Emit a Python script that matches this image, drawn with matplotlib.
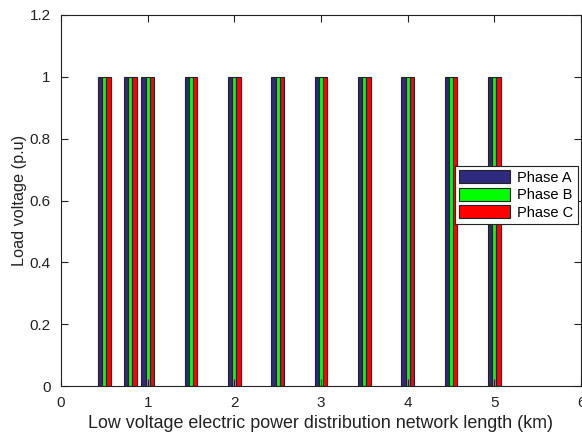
import matplotlib
matplotlib.use("Agg")
import matplotlib.pyplot as plt
import numpy as np

plt.rcParams['font.family'] = ['Liberation Sans', 'DejaVu Sans']

distance_km = [0.5, 0.8, 1.0, 1.5, 2.0, 2.5, 3.0, 3.5, 4.0, 4.5, 5.0]
phase_a = [1, 1, 1, 1, 1, 1, 1, 1, 1, 1, 1]
phase_b = [1, 1, 1, 1, 1, 1, 1, 1, 1, 1, 1]
phase_c = [1, 1, 1, 1, 1, 1, 1, 1, 1, 1, 1]
series_names = ['Phase A', 'Phase B', 'Phase C']
colors = ['#2e2a7e', '#00ff00', '#ff0000']

fig = plt.figure(figsize=(5.82, 4.34), dpi=100)
ax = fig.add_axes([61/582, 1-386/434, 520/582, 371/434])

x = np.array(distance_km)
w = 0.048
for i, (vals, name, c) in enumerate(zip([phase_a, phase_b, phase_c], series_names, colors)):
    ax.bar(x + (i-1)*w, vals, width=w, color=c, edgecolor='#222222', linewidth=0.8, label=name)

ax.set_xlim(0, 6)
ax.set_ylim(0, 1.2)
ax.set_xticks([0, 1, 2, 3, 4, 5, 6])
ax.set_yticks([0, 0.2, 0.4, 0.6, 0.8, 1.0, 1.2])
ax.set_yticklabels(['0', '0.2', '0.4', '0.6', '0.8', '1', '1.2'])
ax.tick_params(direction='in', top=True, right=True, length=5, labelsize=11,
               colors='#222222', labelcolor='#222222')
ax.tick_params(axis='x', pad=7.5)
ax.tick_params(axis='y', pad=7.5)
for s in ax.spines.values():
    s.set_color('#222222')
    s.set_linewidth(0.8)
ax.set_xlabel('Low voltage electric power distribution network length (km)', fontsize=12.9,
              color='#222222', labelpad=3.5)
ax.set_ylabel('Load voltage (p.u)', fontsize=11.7, color='#222222', labelpad=2)

leg = ax.legend(loc='upper right', bbox_to_anchor=(0.994, 0.593), borderaxespad=0,
                fancybox=False, framealpha=1, edgecolor='#222222', fontsize=10.5,
                handlelength=3.5, handleheight=1.0, labelspacing=0.2, borderpad=0.3,
                handletextpad=0.5)
leg.get_frame().set_linewidth(0.8)

fig.savefig('out.png', dpi=100)
